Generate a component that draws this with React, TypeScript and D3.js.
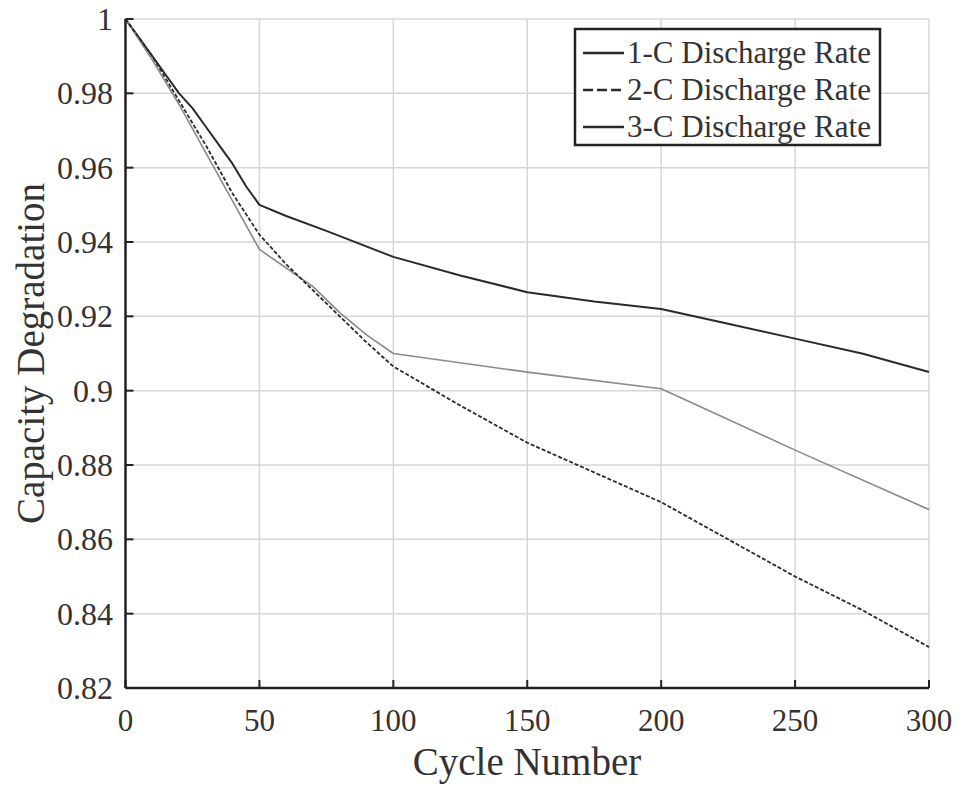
import React from "react";
import * as d3 from "d3";

const xTicks = [0, 50, 100, 150, 200, 250, 300];
const yTicks = [0.82, 0.84, 0.86, 0.88, 0.9, 0.92, 0.94, 0.96, 0.98, 1];
const yTickLabels = ["0.82", "0.84", "0.86", "0.88", "0.9", "0.92", "0.94", "0.96", "0.98", "1"];

const cycles1 = [0, 5, 10, 15, 20, 25, 30, 35, 40, 45, 50, 60, 75, 100, 125, 150, 175, 200, 225, 250, 275, 300];
const rate1C = [1, 0.995, 0.99, 0.985, 0.98, 0.976, 0.971, 0.966, 0.961, 0.955, 0.95, 0.947, 0.943, 0.936, 0.931, 0.9265, 0.924, 0.922, 0.918, 0.914, 0.91, 0.905];

const cycles2 = [0, 10, 20, 30, 40, 50, 60, 70, 80, 90, 100, 125, 150, 175, 200, 225, 250, 275, 300];
const rate2C = [1, 0.99, 0.978, 0.966, 0.953, 0.942, 0.934, 0.927, 0.92, 0.913, 0.9065, 0.896, 0.886, 0.878, 0.87, 0.86, 0.85, 0.841, 0.831];

const cycles3 = [0, 10, 20, 30, 40, 50, 60, 70, 80, 90, 100, 150, 200, 250, 300];
const rate3C = [1, 0.989, 0.977, 0.964, 0.951, 0.938, 0.933, 0.928, 0.921, 0.915, 0.91, 0.905, 0.9005, 0.884, 0.868];

const legendLabels = ["1-C Discharge Rate", "2-C Discharge Rate", "3-C Discharge Rate"];

export default function App() {
  const W = 964, H = 787;
  const left = 125.5, right = 929, top = 19, bottom = 688;
  const x = d3.scaleLinear().domain([0, 300]).range([left, right]);
  const y = d3.scaleLinear().domain([0.82, 1]).range([bottom, top]);
  const font = "'Liberation Serif', 'Times New Roman', serif";

  const mk = (xs: number[], ys: number[]) =>
    d3.line<number>().x((_, i) => x(xs[i])).y((d) => y(d))(ys) || "";

  const series = [
    { d: mk(cycles1, rate1C), stroke: "#2a2a2a", w: 2, dash: undefined as string | undefined },
    { d: mk(cycles3, rate3C), stroke: "#8a8a8a", w: 1.6, dash: undefined },
    { d: mk(cycles2, rate2C), stroke: "#2a2a2a", w: 1.8, dash: "4,2" },
  ];
  const legendStyles = [
    { stroke: "#2a2a2a", dash: undefined as string | undefined },
    { stroke: "#2a2a2a", dash: "10,4" },
    { stroke: "#2a2a2a", dash: undefined },
  ];

  return (
    <svg width={W} height={H} style={{ position: "absolute", left: 0, top: 0, background: "#fff" }}>
      <rect width={W} height={H} fill="#fff" />
      {xTicks.map((t) => (
        <line key={"gx" + t} x1={x(t)} x2={x(t)} y1={top} y2={bottom} stroke="#d6d6d6" strokeWidth={1.5} />
      ))}
      {yTicks.map((t) => (
        <line key={"gy" + t} x1={left} x2={right} y1={y(t)} y2={y(t)} stroke="#d6d6d6" strokeWidth={1.5} />
      ))}
      {series.map((s, i) => (
        <path key={i} d={s.d} fill="none" stroke={s.stroke} strokeWidth={s.w} strokeDasharray={s.dash} strokeLinejoin="round" />
      ))}
      <line x1={left} x2={left} y1={top} y2={bottom} stroke="#222" strokeWidth={2.5} />
      <line x1={left} x2={right} y1={bottom} y2={bottom} stroke="#222" strokeWidth={2.5} />
      {xTicks.map((t) => (
        <g key={"tx" + t}>
          <line x1={x(t)} x2={x(t)} y1={bottom} y2={bottom - 8} stroke="#222" strokeWidth={2} />
          <text x={x(t)} y={731} textAnchor="middle" fontFamily={font} fontSize={31} fill="#333">{t}</text>
        </g>
      ))}
      {yTicks.map((t, i) => (
        <g key={"ty" + t}>
          <line x1={left} x2={left + 8} y1={y(t)} y2={y(t)} stroke="#222" strokeWidth={2} />
          <text x={113} y={y(t) + 11} textAnchor="end" fontFamily={font} fontSize={32} fill="#333">{yTickLabels[i]}</text>
        </g>
      ))}
      <text x={527} y={775} textAnchor="middle" fontFamily={font} fontSize={39} fill="#333">Cycle Number</text>
      <text transform={`translate(44,${(top + bottom) / 2}) rotate(-90)`} textAnchor="middle" fontFamily={font} fontSize={39} fill="#333">Capacity Degradation</text>
      <rect x={575} y={29} width={305} height={116} fill="#fff" stroke="#222" strokeWidth={2.5} />
      {legendLabels.map((l, i) => {
        const cy = 53 + i * 37;
        return (
          <g key={l}>
            <line x1={583} x2={624} y1={cy} y2={cy} stroke={legendStyles[i].stroke} strokeWidth={2.4} strokeDasharray={legendStyles[i].dash} />
            <text x={627} y={cy + 10} fontFamily={font} fontSize={31} fill="#333">{l}</text>
          </g>
        );
      })}
    </svg>
  );
}
